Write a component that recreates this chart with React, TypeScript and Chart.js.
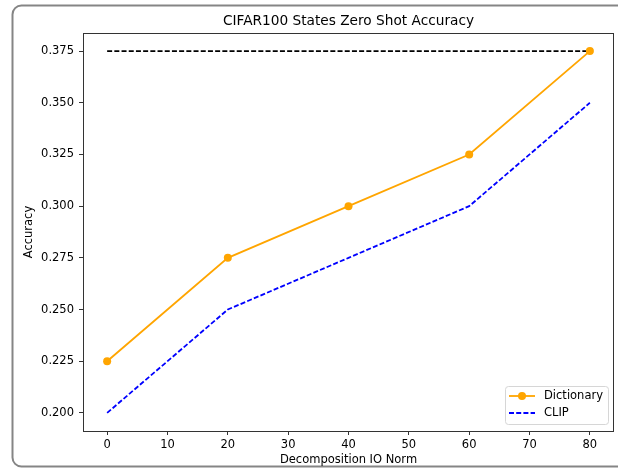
import React, { useEffect, useRef } from "react";
import { Chart, registerables } from "chart.js";

Chart.register(...registerables);

const xValues = [0, 20, 40, 60, 80];
const dictionaryValues = [0.225, 0.275, 0.3, 0.325, 0.375];
const clipValues = [0.2, 0.25, 0.275, 0.3, 0.35];
const refValues = [0.375, 0.375];
const refX = [0, 80];
const xTicks = [0, 10, 20, 30, 40, 50, 60, 70, 80];
const yTicks = [0.2, 0.225, 0.25, 0.275, 0.3, 0.325, 0.35, 0.375];
const titleText = "CIFAR100 States Zero Shot Accuracy";
const xLabel = "Decomposition IO Norm";
const yLabel = "Accuracy";

const FONT = "'DejaVu Sans', sans-serif";

const decorPlugin = {
  id: "decor",
  beforeDraw(chart: any) {
    const ctx = chart.ctx;
    ctx.save();
    ctx.fillStyle = "#fff";
    ctx.fillRect(0, 0, chart.width, chart.height);
    ctx.strokeStyle = "#858585";
    ctx.lineWidth = 2;
    const x0 = 12.5, y0 = 5.5, x1 = 640, y1 = 466.5, r = 9;
    ctx.beginPath();
    ctx.moveTo(x0 + r, y0);
    ctx.lineTo(x1, y0);
    ctx.lineTo(x1, y1);
    ctx.lineTo(x0 + r, y1);
    ctx.arcTo(x0, y1, x0, y1 - r, r);
    ctx.lineTo(x0, y0 + r);
    ctx.arcTo(x0, y0, x0 + r, y0, r);
    ctx.closePath();
    ctx.stroke();
    ctx.restore();
  },
  afterDraw(chart: any) {
    const ctx = chart.ctx;
    const a = chart.chartArea;
    ctx.save();
    ctx.strokeStyle = "#333";
    ctx.lineWidth = 1;
    ctx.strokeRect(Math.round(a.left) + 0.5, Math.round(a.top) + 0.5, Math.round(a.right - a.left) - 1, Math.round(a.bottom - a.top));
    ctx.fillStyle = "#000";
    ctx.font = `13.7px ${FONT}`;
    ctx.textAlign = "center";
    ctx.textBaseline = "middle";
    const cx = (a.left + a.right) / 2;
    ctx.fillText(titleText, cx, 21.5);
    ctx.font = `11.5px ${FONT}`;
    ctx.fillText(xLabel, cx, 460);
    ctx.save();
    ctx.translate(29.5, (a.top + a.bottom) / 2);
    ctx.rotate(-Math.PI / 2);
    ctx.fillText(yLabel, 0, 0);
    ctx.restore();
    const lx = 505.5, ly = 386.5, lw = 103, lh = 38;
    ctx.fillStyle = "rgba(255,255,255,0.8)";
    ctx.strokeStyle = "#d6d6d6";
    ctx.lineWidth = 1;
    ctx.beginPath();
    ctx.roundRect(lx, ly, lw, lh, 3);
    ctx.fill();
    ctx.stroke();
    const items = chart.data.datasets.filter((d: any) => d.showInLegend);
    items.forEach((d: any, i: number) => {
      const yy = 396 + i * 17;
      ctx.strokeStyle = d.borderColor;
      ctx.lineWidth = d.borderWidth;
      ctx.setLineDash(d.borderDash || []);
      ctx.beginPath();
      ctx.moveTo(509, yy);
      ctx.lineTo(535, yy);
      ctx.stroke();
      ctx.setLineDash([]);
      if (d.pointRadius > 0) {
        ctx.fillStyle = d.pointBackgroundColor;
        ctx.beginPath();
        ctx.arc(522, yy, d.pointRadius, 0, Math.PI * 2);
        ctx.fill();
      }
      ctx.fillStyle = "#000";
      ctx.font = `11.5px ${FONT}`;
      ctx.textAlign = "left";
      ctx.fillText(d.label, 544, yy);
    });
    ctx.restore();
  },
};

export default function App() {
  const ref = useRef<HTMLCanvasElement | null>(null);
  useEffect(() => {
    document.body.style.margin = "0";
    const canvas = ref.current!;
    const chart = new Chart(canvas, {
      type: "line",
      data: {
        datasets: [
          {
            label: "Dictionary",
            data: xValues.map((x, i) => ({ x, y: dictionaryValues[i] })),
            borderColor: "#FFA500",
            backgroundColor: "#FFA500",
            pointBackgroundColor: "#FFA500",
            pointBorderColor: "#FFA500",
            pointRadius: 4,
            pointBorderWidth: 0,
            borderWidth: 1.8,
            order: 0,
            showInLegend: true,
          } as any,
          {
            label: "CLIP",
            data: xValues.map((x, i) => ({ x, y: clipValues[i] })),
            borderColor: "#0000FF",
            backgroundColor: "#0000FF",
            borderDash: [5, 2.2],
            pointRadius: 0,
            borderWidth: 1.8,
            order: 1,
            showInLegend: true,
          } as any,
          {
            label: "ref",
            data: refX.map((x, i) => ({ x, y: refValues[i] })),
            borderColor: "#000000",
            borderDash: [5, 2.2],
            pointRadius: 0,
            borderWidth: 1.8,
            order: 2,
            showInLegend: false,
          } as any,
        ],
      },
      options: {
        animation: false,
        responsive: false,
        maintainAspectRatio: false,
        layout: { padding: { left: 0, top: 33, right: 3, bottom: 0 } },
        plugins: { legend: { display: false }, title: { display: false }, tooltip: { enabled: false } },
        scales: {
          x: {
            type: "linear",
            min: -4,
            max: 84,
            afterBuildTicks: (s: any) => { s.ticks = xTicks.map((v) => ({ value: v })); },
            afterFit: (s: any) => { s.height = 40; },
            grid: { display: true, drawOnChartArea: false, drawTicks: true, tickLength: 4, color: "#333" },
            border: { display: false },
            ticks: { color: "#000", font: { family: FONT, size: 11.5 }, padding: 3, maxRotation: 0, autoSkip: false },
          },
          y: {
            type: "linear",
            min: 0.19125,
            max: 0.38375,
            afterBuildTicks: (s: any) => { s.ticks = yTicks.map((v) => ({ value: v })); },
            afterFit: (s: any) => { s.width = 83; },
            grid: { display: true, drawOnChartArea: false, drawTicks: true, tickLength: 4, color: "#333" },
            border: { display: false },
            ticks: { color: "#000", font: { family: FONT, size: 11.5 }, padding: 5, autoSkip: false, callback: (v: any) => Number(v).toFixed(3) },
          },
        },
      },
      plugins: [decorPlugin],
    });
    return () => chart.destroy();
  }, []);
  return <canvas ref={ref} width={618} height={471} style={{ display: "block", width: 618, height: 471 }} />;
}
